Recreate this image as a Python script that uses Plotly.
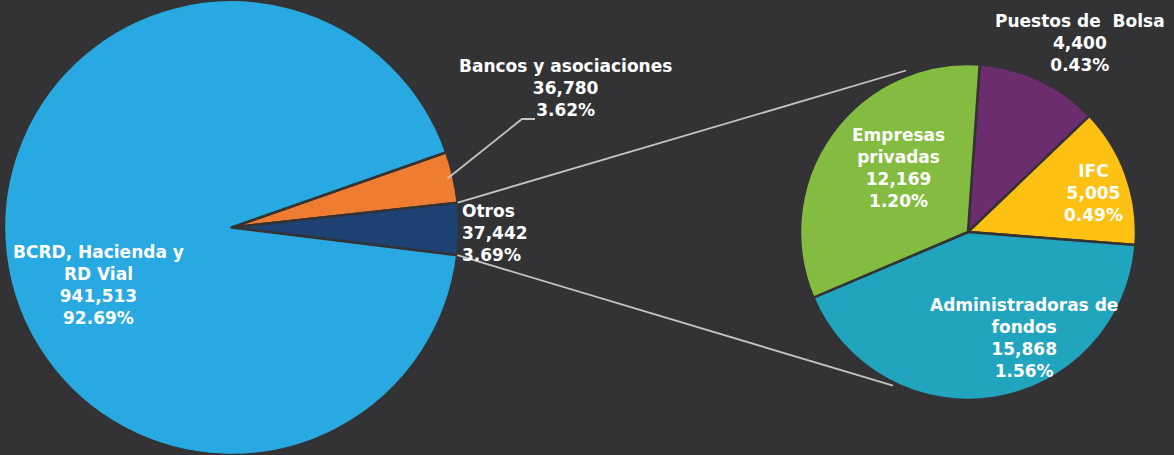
import math
import plotly.graph_objects as go

# ---------------- data ----------------
main_labels = ["Bancos y asociaciones", "Otros", "BCRD, Hacienda y RD Vial"]
main_display = ["Bancos y asociaciones", "Otros", "BCRD, Hacienda y<br>RD Vial"]
main_values = [36780, 37442, 941513]

sub_labels = ["Puestos de Bolsa", "IFC", "Administradoras de fondos", "Empresas privadas"]
sub_display = ["Puestos de\u00a0 Bolsa", "IFC", "Administradoras de<br>fondos", "Empresas<br>privadas"]
sub_values = [4400, 5005, 15868, 12169]

# ---------------- style ----------------
W, H = 1174, 455
BG = "#333335"
main_colors = ["#EE7D31", "#1D4273", "#29A9E1"]
sub_colors = ["#6B2D6E", "#FDC114", "#21A4BD", "#84BC41"]
FONT = "DejaVu Sans"
FSIZE = 17

total = sum(main_values)
otros_idx = main_labels.index("Otros")

# geometry (pixels)
big_c = (231.5, 227.5)
big_r = 227.5
small_c = (968, 232)
small_r = 168

otros_bottom_math = -7.0  # math angle of lower edge of "Otros" slice
a_otros = main_values[otros_idx] / total * 360
a_bancos = main_values[0] / total * 360
main_rotation = 90 - (otros_bottom_math + a_otros + a_bancos)
sub_rotation = 4.0


def px(x):
    return x / W


def py(y):
    return 1 - y / H


fig = go.Figure()
fig.add_trace(go.Pie(
    labels=main_labels, values=main_values, sort=False, direction="clockwise",
    rotation=main_rotation, textinfo="none", hoverinfo="label+value+percent",
    marker=dict(colors=main_colors, line=dict(color=BG, width=2.5)),
    domain=dict(x=[px(big_c[0] - big_r), px(big_c[0] + big_r)], y=[0, 1]),
    showlegend=False,
))
fig.add_trace(go.Pie(
    labels=sub_labels, values=sub_values, sort=False, direction="clockwise",
    rotation=sub_rotation, textinfo="none", hoverinfo="label+value",
    marker=dict(colors=sub_colors, line=dict(color=BG, width=2.5)),
    domain=dict(x=[px(small_c[0] - small_r), px(small_c[0] + small_r)],
                y=[py(small_c[1] + small_r), py(small_c[1] - small_r)]),
    showlegend=False,
))


def txt(name, v):
    return f"{name}<br>{v:,}<br>{v / total * 100:.2f}%"


# label positions (pixels: x, y, xanchor, align)
main_pos = [(565, 88, "center", "center"), (460, 233, "left", "left"), (98, 285, "center", "center")]
sub_pos = [(1080, 43, "center", "center"), (1093, 193, "center", "center"),
           (1024, 338, "center", "center"), (898, 168, "center", "center")]

annotations = []
for name, v, (x, y, xa, al) in zip(main_display + sub_display, main_values + sub_values,
                                   main_pos + sub_pos):
    annotations.append(dict(x=px(x), y=py(y), xref="paper", yref="paper", text=txt(name, v),
                            showarrow=False, xanchor=xa, yanchor="middle", align=al,
                            font=dict(family=FONT, size=FSIZE, color="white", weight=600)))


def on_circle(c, r, ang):
    return (c[0] + r * math.cos(math.radians(ang)), c[1] - r * math.sin(math.radians(ang)))


# connector lines from the "Otros" slice edges to the sub-pie
top_start = on_circle(big_c, big_r, otros_bottom_math + a_otros)
bot_start = on_circle(big_c, big_r, otros_bottom_math)
top_end = on_circle(small_c, small_r + 5, 111)
bot_end = on_circle(small_c, small_r + 3, 244)

shapes = []
for (x0, y0), (x1, y1) in [(top_start, top_end), (bot_start, bot_end)]:
    shapes.append(dict(type="line", xref="paper", yref="paper", x0=px(x0), y0=py(y0),
                       x1=px(x1), y1=py(y1), line=dict(color="#C4C4C4", width=1.8)))

# leader for "Bancos y asociaciones"
b_mid = on_circle(big_c, big_r - 6, otros_bottom_math + a_otros + a_bancos / 2)
shapes.append(dict(type="path", xref="paper", yref="paper",
                   path=f"M {px(b_mid[0])},{py(b_mid[1])} L {px(522)},{py(119)} L {px(535)},{py(119)}",
                   line=dict(color="#C4C4C4", width=1.8)))

fig.update_layout(
    width=W, height=H, margin=dict(l=0, r=0, t=0, b=0),
    paper_bgcolor=BG, plot_bgcolor=BG,
    annotations=annotations, shapes=shapes,
)

fig.write_html(
    "out.html",
    config={"displayModeBar": False},
    post_script="document.body.style.margin='0';document.body.style.padding='0';"
                "document.body.style.overflow='hidden';document.body.style.background='" + BG + "';",
)
